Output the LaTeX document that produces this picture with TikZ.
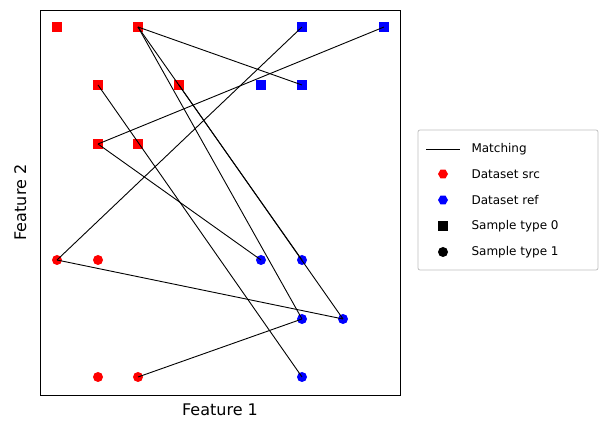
\documentclass[tikz,border=0pt]{standalone}
\usepackage{fontspec}
\setmainfont{DejaVu Sans}
\usetikzlibrary{shapes.geometric}
\tikzset{
 sq/.style={rectangle,inner sep=0pt,minimum size=9.5pt},
 ci/.style={circle,inner sep=0pt,minimum size=10pt},
 src/.style={fill=red},
 ref/.style={fill=blue},
 match/.style={draw=black,line width=0.9pt},
 lab/.style={font=\fontsize{16}{19}\selectfont},
 leg/.style={font=\fontsize{12}{14}\selectfont,anchor=west}
}
\begin{document}
\begin{tikzpicture}[x=1pt,y=-1pt]
\useasboundingbox (0,0) rectangle (608,435);
% points
\node[sq,src] (a1) at (57,27) {};
\node[sq,src] (a2) at (138,27) {};
\node[sq,src] (a3) at (98,85) {};
\node[sq,src] (a4) at (179,85) {};
\node[sq,src] (a5) at (98,144) {};
\node[sq,src] (a6) at (138,144) {};
\node[sq,ref] (b1) at (302,27) {};
\node[sq,ref] (b2) at (384,27) {};
\node[sq,ref] (b3) at (261,85) {};
\node[sq,ref] (b4) at (302,85) {};
\node[ci,src] (c1) at (57,260) {};
\node[ci,src] (c2) at (98,260) {};
\node[ci,src] (c3) at (98,377) {};
\node[ci,src] (c4) at (138,377) {};
\node[ci,ref] (d1) at (261,260) {};
\node[ci,ref] (d2) at (302,260) {};
\node[ci,ref] (d3) at (302,319) {};
\node[ci,ref] (d4) at (343,319) {};
\node[ci,ref] (d5) at (302,377) {};
% matches
\draw[match] (c1.center) -- (b1.center);
\draw[match] (a5.center) -- (b2.center);
\draw[match] (a5.center) -- (d1.center);
\draw[match] (a3.center) -- (d5.center);
\draw[match] (a2.center) -- (b4.center);
\draw[match] (a2.center) -- (d3.center);
\draw[match] (a2.center) -- (d2.center);
\draw[match] (a4.center) -- (d4.center);
\draw[match] (c1.center) -- (d4.center);
\draw[match] (c4.center) -- (d3.center);
% frame
\node[draw=black,line width=0.8pt,minimum width=360pt,minimum height=385pt,inner sep=0pt] (fr) at (220,202.5) {};
\node[lab,anchor=north] (xl) at (220,400) {Feature 1};
\node[lab,rotate=90,anchor=south] (yl) at (30,202.5) {Feature 2};
% legend
\node[draw=black!25,rounded corners=2pt,minimum width=180pt,minimum height=140pt,inner sep=0pt,line width=0.8pt] (lg) at (508,200) {};
\coordinate (l1) at (426,149); \coordinate (l2) at (460,149);
\draw[match] (l1) -- (l2);
\node[regular polygon,regular polygon sides=6,inner sep=0pt,minimum size=10pt,src] (m2) at (443,174) {};
\node[regular polygon,regular polygon sides=6,inner sep=0pt,minimum size=10pt,ref] (m3) at (443,200) {};
\node[sq,fill=black] (m4) at (443,226) {};
\node[ci,fill=black] (m5) at (443,252) {};
\node[leg] (t1) at (468,149) {Matching};
\node[leg] (t2) at (468,174) {Dataset src};
\node[leg] (t3) at (468,200) {Dataset ref};
\node[leg] (t4) at (468,226) {Sample type 0};
\node[leg] (t5) at (468,252) {Sample type 1};
\end{tikzpicture}
\end{document}
